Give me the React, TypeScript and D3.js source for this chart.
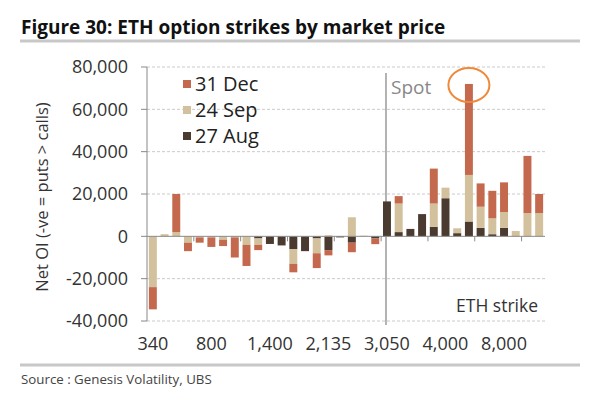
import React from 'react'
import * as d3 from 'd3'

// strikes (only every 5th label is shown on the axis)
const strikes = [
	'340', '400', '500', '600', '700', '800', '900', '1,000', '1,200', '1,300',
	'1,400', '1,500', '1,600', '1,800', '2,000', '2,135', '2,200', '2,400', '2,600', '2,800',
	'3,050', '3,200', '3,400', '3,600', '3,800', '4,000', '4,400', '5,000', '6,000', '7,000',
	'8,000', '10,000', '12,000', '15,000',
]

// net OI by expiry
const aug27 = [
	0, 0, 0, 0, 0, 0, 0, 0, 0, -1000,
	-3600, -4300, -6000, -7000, -1000, -6500, -500, -3000, 0, -1000,
	16500, 2000, 3500, 10500, 4500, 18000, 1500, 7000, 4000, 1000,
	4000, 0, 0, 0,
]
const sep24 = [
	-24000, 1000, 2000, -3000, -500, -500, -1600, -500, -4000, -3000,
	0, 0, -7000, 0, -7000, 500, 0, 9000, 300, 0,
	0, 13500, 0, 0, 11000, 5000, 2300, 22000, 10000, 7500,
	7500, 2500, 11000, 11000,
]
const dec31 = [
	-10500, 0, 18000, -4000, -2500, -4500, -3000, -9500, -10000, -2500,
	0, 0, -4000, 0, -7000, -2500, 0, -4500, 0, -2700,
	0, 3500, 0, 0, 16500, 0, 0, 43000, 11000, 13000,
	14000, 0, 27000, 9000,
]
const yTicks = [-40000, -20000, 0, 20000, 40000, 60000, 80000]

const seriesKeys = ['aug', 'sep', 'dec']
const seriesNames: Record<string, string> = { dec: '31 Dec', sep: '24 Sep', aug: '27 Aug' }
const colors: Record<string, string> = { dec: '#C4694E', sep: '#D3C09C', aug: '#4A3A2F' }

const W = 589
const H = 396
const left = 147
const right = 545
const top = 67
const bottom = 321
const font = '"Open Sans", sans-serif'

export default function App() {
	const rows = strikes.map((s, i) => ({ i, aug: aug27[i], sep: sep24[i], dec: dec31[i] }))

	const x = d3.scaleBand<number>()
		.domain(strikes.map((_, i) => i))
		.range([left, right])
		.paddingInner(0.32)
		.paddingOuter(0.16)

	const y = d3.scaleLinear().domain([-40000, 80000]).range([bottom, top])

	const stacked = d3.stack<any>()
		.keys(seriesKeys)
		.offset(d3.stackOffsetDiverging)(rows)

	const bw = x.bandwidth()
	const step = x.step()
	const spotX = (x(20) as number) + 3
	const peak = 27
	const peakTop = aug27[peak] + sep24[peak] + dec31[peak]

	return (
		<svg width={W} height={H} style={{ position: 'absolute', left: 0, top: 0, background: '#fff' }}>
			<text x={21} y={34} fontFamily={font} fontWeight={700} fontSize={19} fill="#111">
				Figure 30: ETH option strikes by market price
			</text>
			<line x1={20} x2={580} y1={41} y2={41} stroke="#c8c8c8" strokeWidth={3} />

			{/* grid */}
			{yTicks.map(t => (
				<g key={t}>
					{t !== 0 && (
						<line x1={left} x2={right} y1={y(t)} y2={y(t)} stroke="#bdbdbd" strokeDasharray="3,2" strokeWidth={0.8} />
					)}
					<line x1={left - 6} x2={left} y1={y(t)} y2={y(t)} stroke="#888" />
					<text x={128} y={y(t)} dy="0.35em" textAnchor="end" fontFamily={font} fontSize={18} fill="#333">
						{d3.format(',')(t).replace('−', '-')}
					</text>
				</g>
			))}

			{/* spot marker */}
			<line x1={spotX} x2={spotX} y1={73} y2={325} stroke="#9a9a9a" strokeWidth={1.5} />
			<text x={391} y={94} fontFamily={font} fontSize={19} fill="#888">Spot</text>

			{/* bars */}
			{stacked.map(s => (
				<g key={s.key} fill={colors[s.key]}>
					{s.map((d, i) => (
						d[1] - d[0] === 0 ? null : (
							<rect
								key={i}
								x={x(i)}
								width={bw}
								y={y(Math.max(d[0], d[1]))}
								height={Math.abs(y(d[0]) - y(d[1]))}
							/>
						)
					))}
				</g>
			))}

			{/* zero axis */}
			<line x1={left} x2={right} y1={y(0)} y2={y(0)} stroke="#8a8a8a" strokeWidth={1} />
			{d3.range(4, strikes.length, 4).map(k => (
				<line key={k} x1={left + k * step} x2={left + k * step} y1={y(0)} y2={y(0) + 5} stroke="#8a8a8a" />
			))}
			<line x1={left} x2={left} y1={top} y2={bottom} stroke="#888" />

			{strikes.map((s, i) => i % 5 === 0 ? (
				<text key={s} x={(x(i) as number) + bw / 2} y={350} textAnchor="middle" fontFamily={font} fontSize={18} fill="#333">
					{s}
				</text>
			) : null)}

			<text
				transform={`translate(48,${197}) rotate(-90)`}
				textAnchor="middle"
				fontFamily={font}
				fontSize={16.5}
				fill="#333"
			>
				Net OI (-ve = puts &gt; calls)
			</text>

			<text x={538} y={312} textAnchor="end" fontFamily={font} fontSize={17.5} fill="#333">ETH strike</text>

			{/* legend */}
			{['dec', 'sep', 'aug'].map((k, i) => (
				<g key={k} transform={`translate(183,${80 + i * 26})`}>
					<rect width={8} height={8} fill={colors[k]} />
					<text x={12} y={4} dy="0.36em" fontFamily={font} fontSize={20} fill="#222">{seriesNames[k]}</text>
				</g>
			))}

			{/* highlight on the peak strike */}
			<ellipse
				cx={(x(peak) as number) + bw / 2}
				cy={y(peakTop) + 1}
				rx={20.5}
				ry={17}
				fill="none"
				stroke="#F0883A"
				strokeWidth={2}
			/>

			<line x1={20} x2={580} y1={365} y2={365} stroke="#c8c8c8" strokeWidth={3} />
			<text x={21} y={384} fontFamily={font} fontSize={13.3} fill="#444">Source : Genesis Volatility, UBS</text>
		</svg>
	)
}
